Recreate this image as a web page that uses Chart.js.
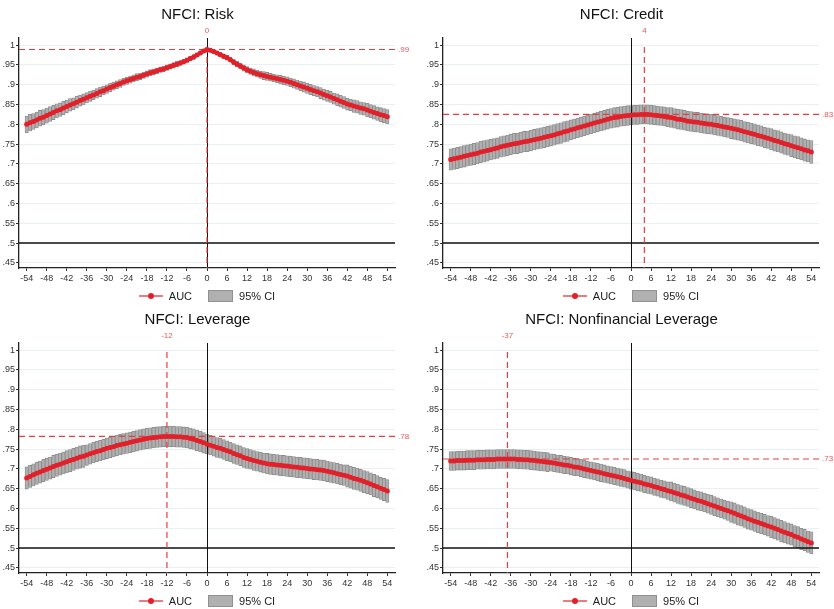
<!DOCTYPE html>
<html lang="en">
<head>
<meta charset="UTF-8">
<title>NFCI AUC by lag</title>
<script src="https://cdn.jsdelivr.net/npm/chart.js@4.4.1/dist/chart.umd.min.js"></script>
<style>
  body {
    margin: 0;
    background: #fff;
    width: 834px;
    height: 609px;
    overflow: hidden;
    position: relative;
    font-family: "Liberation Sans", Arial, sans-serif;
  }
  .panel { position: absolute; width: 410px; height: 304px; }
  .panel canvas { position: absolute; left: 0; top: 0; }
  .legend {
    position: absolute; left: 0; top: 289px; width: 414px; height: 14px;
    display: flex; justify-content: center; align-items: center;
    font-size: 11px; color: #222;
  }
  .lg-line { position: relative; width: 24px; height: 2px; background: #f07a7e; margin-right: 6px; }
  .lg-line i { position: absolute; left: 9px; top: -2px; width: 6px; height: 6px; border-radius: 50%; background: #e3202a; }
  .lg-box { width: 23px; height: 10px; background: #b0b0b0; border: 1px solid #909090; margin: 0 6px 0 16px; }
</style>
</head>
<body>
  <div class="panel" style="left:0;top:0"><canvas id="c0" width="410" height="290"></canvas>
    <div class="legend"><span class="lg-line"><i></i></span><span>AUC</span><span class="lg-box"></span><span>95% CI</span></div></div>
  <div class="panel" style="left:424px;top:0"><canvas id="c1" width="410" height="290"></canvas>
    <div class="legend"><span class="lg-line"><i></i></span><span>AUC</span><span class="lg-box"></span><span>95% CI</span></div></div>
  <div class="panel" style="left:0;top:305px"><canvas id="c2" width="410" height="290"></canvas>
    <div class="legend"><span class="lg-line"><i></i></span><span>AUC</span><span class="lg-box"></span><span>95% CI</span></div></div>
  <div class="panel" style="left:424px;top:305px"><canvas id="c3" width="410" height="290"></canvas>
    <div class="legend"><span class="lg-line"><i></i></span><span>AUC</span><span class="lg-box"></span><span>95% CI</span></div></div>

<script>
// lags -54 .. 54 (months)
const lags = [];
for (let l = -54; l <= 54; l++) lags.push(l);

const xTicks = [-54, -48, -42, -36, -30, -24, -18, -12, -6, 0, 6, 12, 18, 24, 30, 36, 42, 48, 54];
const yTicks = [1, .95, .9, .85, .8, .75, .7, .65, .6, .55, .5, .45];

const titles = ['NFCI: Risk', 'NFCI: Credit', 'NFCI: Leverage', 'NFCI: Nonfinancial Leverage'];
const peakLags = [0, 4, -12, -37];
const peakLabels = ['.99', '.83', '.78', '.73'];

const riskAuc = [
  .800,.804,.807,.811,.815,.818,.822,.826,.830,.834,.837,.841,.845,.849,.852,.856,.860,.863,
  .867,.871,.874,.878,.882,.885,.889,.893,.896,.900,.903,.907,
  .910,.913,.916,.919,.921,.924,.927,.930,.932,.935,.938,.940,
  .943,.946,.949,.952,.955,.958,.962,.966,.970,.975,.980,.985,
  .989,.987,.984,.980,.976,.972,.968,.963,.957,.952,.947,.942,
  .938,.934,.931,.928,.925,.923,.921,.919,.917,.915,.913,.911,
  .909,.906,.903,.900,.897,.894,.891,.888,.885,.882,.879,.875,
  .872,.869,.865,.862,.858,.855,.851,.849,.846,.844,.841,.839,
  .836,.833,.830,.827,.824,.822,.819
];
// half width of the 95% CI
const riskCi = [
  .021,.021,.020,.020,.020,.019, .019,.019,.018,.018,.017,.017, .016,.016,.015,.015,.014,.014,
  .013,.013,.012,.012,.012,.011, .011,.011,.010,.010,.010,.009, .009,.009,.009,.009,.008,.008,
  .008,.008,.008,.007,.007,.007, .007,.007,.007,.007,.006,.006, .006,.006,.006,.005,.005,.005,
  .005,.005,.005,.005,.006,.006, .006,.006,.007,.007,.007,.008, .008,.008,.009,.009,.009,.010,
  .010,.010,.010,.010,.011,.011, .011,.011,.012,.012,.012,.013, .013,.013,.013,.013,.014,.014,
  .014,.014,.014,.015,.015,.015, .015,.015,.016,.016,.016,.016, .017,.017,.017,.017,.018,.018,
  .018
];

const creditAuc = [
  .711,.713,.715,.717,.719,.721,.723,.725,.727,.730,.732,.734,
  .736,.738,.740,.743,.745,.747,.749,.751,.752,.754,.756,.757,
  .759,.761,.763,.765,.767,.769,.771,.773,.776,.778,.781,.783,
  .786,.788,.791,.793,.796,.798,.801,.803,.806,.808,.810,.813,
  .815,.817,.818,.820,.821,.822,.823,.824,.824,.825,.825,.825,
  .824,.823,.822,.821,.820,.818,.817,.815,.813,.812,.810,.808,
  .807,.806,.805,.803,.802,.801,.800,.798,.797,.795,.793,.792,
  .790,.788,.786,.784,.781,.779,.777,.775,.772,.770,.767,.765,
  .762,.759,.757,.754,.751,.749,.746,.743,.741,.738,.735,.733,
  .730
];
const creditCi = [
  .027,.027,.027,.027,.027,.027,.027,.027,.027,.027,.027,.027,
  .026,.026,.026,.026,.026,.026,.026,.026,.026,.026,.026,.026,
  .026,.026,.026,.026,.026,.026,.026,.026,.026,.026,.026,.026,
  .025,.025,.025,.025,.025,.025,.025,.025,.025,.025,.025,.025,
  .025,.025,.025,.025,.025,.025,.024,.024,.024,.024,.024,.024,
  .024,.024,.024,.024,.024,.024,.025,.025,.025,.025,.025,.025,
  .025,.025,.025,.025,.025,.025,.025,.025,.025,.025,.025,.025,
  .026,.026,.026,.026,.026,.026,.026,.026,.026,.026,.026,.026,
  .027,.027,.027,.027,.027,.027,.028,.028,.028,.028,.028,.028,
  .029
];

const leverageAuc = [
  .677,.681,.685,.689,.692,.696,.699,.702,.706,.709,.712,.715,
  .718,.721,.724,.727,.730,.732,.735,.738,.741,.744,.746,.749,
  .752,.754,.756,.759,.761,.763,.765,.767,.769,.771,.773,.775,
  .777,.778,.779,.780,.781,.782,.782,.782,.782,.781,.781,.780,
  .779,.777,.775,.772,.769,.766,.763,.760,.757,.754,.752,.749,
  .746,.743,.739,.736,.733,.729,.726,.724,.721,.719,.717,.715,
  .713,.712,.711,.710,.709,.708,.707,.706,.705,.704,.703,.702,
  .701,.700,.699,.698,.697,.696,.694,.692,.690,.688,.686,.684,
  .682,.679,.676,.674,.671,.668,.665,.662,.658,.655,.651,.648,
  .644
];
const leverageCi = [
  .028,.028,.028,.028,.028,.028,.028,.028,.028,.028,.028,.028,
  .028,.028,.028,.028,.028,.028,.026,.026,.026,.026,.026,.026,
  .026,.026,.026,.026,.026,.026,.026,.026,.026,.026,.026,.026,
  .026,.026,.026,.026,.026,.026,.026,.026,.026,.026,.026,.026,
  .026,.026,.026,.026,.026,.026,.025,.025,.025,.025,.025,.025,
  .025,.025,.025,.025,.025,.025,.025,.025,.025,.025,.025,.025,
  .026,.026,.026,.026,.026,.026,.026,.026,.026,.026,.026,.026,
  .026,.026,.026,.026,.026,.026,.026,.026,.026,.026,.026,.026,
  .028,.028,.028,.028,.028,.028,.028,.028,.028,.028,.028,.028,
  .029
];

const nonfinAuc = [
  .720,.720,.721,.721,.721,.722,.722,.722,.723,.723,.723,.724,
  .724,.724,.725,.725,.725,.725,.725,.725,.724,.724,.723,.723,
  .722,.721,.720,.719,.718,.717,.716,.715,.713,.712,.710,.709,
  .707,.705,.704,.702,.700,.698,.696,.694,.692,.690,.688,.686,
  .684,.682,.680,.678,.676,.673,.671,.669,.667,.665,.662,.660,
  .658,.655,.653,.650,.648,.645,.643,.640,.637,.634,.632,.629,
  .626,.623,.620,.618,.615,.612,.609,.606,.603,.600,.597,.594,
  .591,.588,.584,.581,.578,.574,.571,.568,.565,.562,.559,.556,
  .553,.550,.547,.543,.540,.537,.534,.530,.527,.523,.520,.516,
  .513
];
const nonfinCi = [
  .024,.024,.024,.024,.024,.024,.024,.024,.024,.024,.024,.024,
  .024,.024,.024,.024,.024,.024,.024,.024,.024,.024,.024,.024,
  .024,.024,.024,.024,.024,.024,.022,.022,.022,.022,.022,.022,
  .022,.022,.022,.022,.022,.022,.022,.022,.022,.022,.022,.022,
  .022,.022,.022,.022,.022,.022,.022,.022,.022,.022,.022,.022,
  .022,.022,.022,.022,.022,.022,.024,.024,.024,.024,.024,.024,
  .024,.024,.024,.024,.024,.024,.024,.024,.024,.024,.024,.024,
  .026,.026,.026,.026,.026,.026,.026,.026,.026,.026,.026,.026,
  .027,.027,.027,.027,.027,.027,.027,.027,.027,.027,.027,.027,
  .028
];

const aucSeries = [riskAuc, creditAuc, leverageAuc, nonfinAuc];
const ciSeries = [riskCi, creditCi, leverageCi, nonfinCi];

const FONT = '"Liberation Sans", Arial, sans-serif';

// reference lines: black at lag 0 and AUC .5, red dashed at the peak
const refLines = {
  id: 'refLines',
  afterDatasetDraw(chart, args, opts) {
    if (args.index !== 0) return;
    const { ctx, chartArea: a, scales: { x, y } } = chart;
    ctx.save();
    ctx.strokeStyle = '#111';
    ctx.lineWidth = 1;
    const x0 = Math.round(x.getPixelForValue(0)) + 0.5;
    ctx.beginPath(); ctx.moveTo(x0, a.top); ctx.lineTo(x0, a.bottom); ctx.stroke();
    ctx.lineWidth = 1.4;
    const y5 = y.getPixelForValue(0.5);
    ctx.beginPath(); ctx.moveTo(a.left, y5); ctx.lineTo(a.right, y5); ctx.stroke();

    const px = x.getPixelForValue(opts.lag);
    const py = y.getPixelForValue(opts.value);
    ctx.strokeStyle = '#ec3b40';
    ctx.lineWidth = 1.2;
    ctx.setLineDash([6, 4]);
    ctx.beginPath(); ctx.moveTo(a.left, py); ctx.lineTo(a.right, py); ctx.stroke();
    ctx.beginPath(); ctx.moveTo(px, y.getPixelForValue(0.995)); ctx.lineTo(px, a.bottom); ctx.stroke();
    ctx.setLineDash([]);

    ctx.fillStyle = '#f0555a';
    ctx.font = '8px ' + FONT;
    ctx.textAlign = 'center';
    ctx.textBaseline = 'middle';
    ctx.fillText(String(opts.lag), px, a.top - 7);
    ctx.textAlign = 'left';
    ctx.fillText(opts.label, a.right + 3, py);
    ctx.restore();
  }
};

function makePanel(i) {
  const auc = aucSeries[i];
  const ci = ciSeries[i];
  const peakIdx = lags.indexOf(peakLags[i]);
  new Chart(document.getElementById('c' + i), {
    type: 'bar',
    data: {
      datasets: [
        {
          label: '95% CI',
          data: lags.map((l, k) => ({ x: l, y: [auc[k] - ci[k], auc[k] + ci[k]] })),
          backgroundColor: '#b0b0b0',
          borderColor: '#8a8a8a',
          borderWidth: 0.8,
          borderSkipped: false,
          barThickness: 3.3,
          order: 2
        },
        {
          type: 'line',
          label: 'AUC',
          data: lags.map((l, k) => ({ x: l, y: auc[k] })),
          borderColor: '#e3202a',
          backgroundColor: '#e3202a',
          borderWidth: 3.6,
          pointRadius: 2.5,
          pointBorderWidth: 0,
          tension: 0,
          order: 1
        }
      ]
    },
    options: {
      responsive: false,
      animation: false,
      layout: { padding: { left: 0, right: 15, top: 0, bottom: 0 } },
      plugins: {
        legend: { display: false },
        tooltip: { enabled: false },
        title: {
          display: true,
          text: titles[i],
          color: '#111',
          font: { family: FONT, size: 15, weight: 'normal' },
          padding: { top: 6, bottom: 14 }
        },
        refLines: { lag: peakLags[i], value: auc[peakIdx], label: peakLabels[i] }
      },
      scales: {
        x: {
          type: 'linear',
          min: -56.3,
          max: 56.3,
          offset: false,
          afterBuildTicks: s => { s.ticks = xTicks.map(v => ({ value: v })); },
          afterFit: s => { s.height = 22; },
          grid: { drawOnChartArea: false, tickLength: 3, tickColor: '#333', offset: false },
          border: { color: '#222', width: 1.3 },
          ticks: { color: '#333', font: { family: FONT, size: 9 }, padding: 2, maxRotation: 0, autoSkip: false }
        },
        y: {
          min: 0.437,
          max: 1.018,
          afterBuildTicks: s => { s.ticks = yTicks.map(v => ({ value: v })); },
          afterFit: s => { s.width = 19; },
          grid: { color: '#e8f0f2', tickLength: 3, tickColor: '#333' },
          border: { color: '#222', width: 1.3 },
          ticks: {
            color: '#333',
            font: { family: FONT, size: 9 },
            padding: 1,
            callback: v => (v === 1 ? '1' : String(v).replace('0.', '.'))
          }
        }
      }
    },
    plugins: [refLines]
  });
}

for (let i = 0; i < 4; i++) makePanel(i);
</script>
</body>
</html>
